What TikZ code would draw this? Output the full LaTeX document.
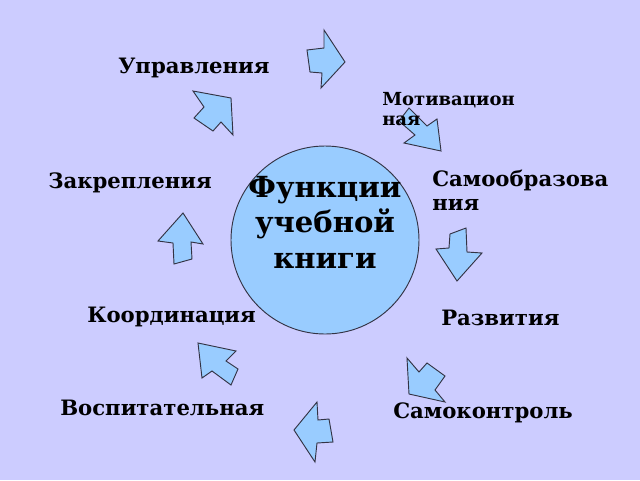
\documentclass[tikz,border=0pt]{standalone}
\usepackage{fontspec}
\setmainfont{DejaVu Serif}
\definecolor{bgcol}{RGB}{204,204,255}
\definecolor{arrowfill}{RGB}{153,204,255}
\definecolor{arrowline}{RGB}{51,51,68}
\begin{document}
\begin{tikzpicture}[x=0.75pt,y=-0.75pt,
  lbl/.style={inner sep=0pt, anchor=base west, align=left, font=\bfseries\fontsize{15.9}{17.3}\selectfont},
  smalllbl/.style={lbl, font=\bfseries\fontsize{13.5}{15}\selectfont},
  barrow/.style={fill=arrowfill, draw=arrowline, line width=0.7pt, line join=miter}]
\fill[bgcol] (0,0) rectangle (640,480);
\useasboundingbox (0,0) rectangle (640,480);
% block arrows
\draw[barrow] (307,50)--(324,48)--(324,30)--(345,62)--(321,88)--(322,73)--(310,72)--cycle;
\draw[barrow] (409,108)--(427,126)--(437,119)--(441,151)--(404,143)--(415,135)--(399,121)--cycle;
\draw[barrow] (450,234)--(466,228)--(467,252)--(482,253)--(457,281)--(436,249)--(449,248)--cycle;
\draw[barrow] (445,376)--(435,390)--(445,402)--(409,394)--(407,358)--(419,372)--(427,363)--cycle;
\draw[barrow] (329,419)--(318,420)--(317,402)--(294,430)--(315,462)--(317,443)--(333,442)--cycle;
\draw[barrow] (238,369)--(226,361)--(236,351)--(198,343)--(202,378)--(212,371)--(231,385)--cycle;
\draw[barrow] (192,259)--(191,242)--(203,244)--(183,213)--(158,241)--(173,243)--(174,264)--cycle;
\draw[barrow] (221,122)--(233,135)--(231,98)--(193,91)--(204,107)--(194,118)--(213,131)--cycle;
% central circle
\node[circle, draw=arrowline, fill=arrowfill, line width=0.7pt, minimum size=141pt, inner sep=0pt] (c) at (325,240) {};
\node[inner sep=0pt, align=center, font=\bfseries\fontsize{21.8}{26.6}\selectfont] (t) at (325,222) {Функции\\учебной\\книги};
% labels (base = baseline of last line)
\node[lbl] (l1) at (118,73) {Управления};
\node[smalllbl] (l2) at (382,125) {Мотивацион\\ная};
\node[lbl] (l3) at (432,210) {Самообразова\\ния};
\node[lbl] (l4) at (441,325) {Развития};
\node[lbl] (l5) at (393,418) {Самоконтроль};
\node[lbl] (l6) at (60,415) {Воспитательная};
\node[lbl] (l7) at (87,322) {Координация};
\node[lbl] (l8) at (48,188) {Закрепления};
\end{tikzpicture}
\end{document}
